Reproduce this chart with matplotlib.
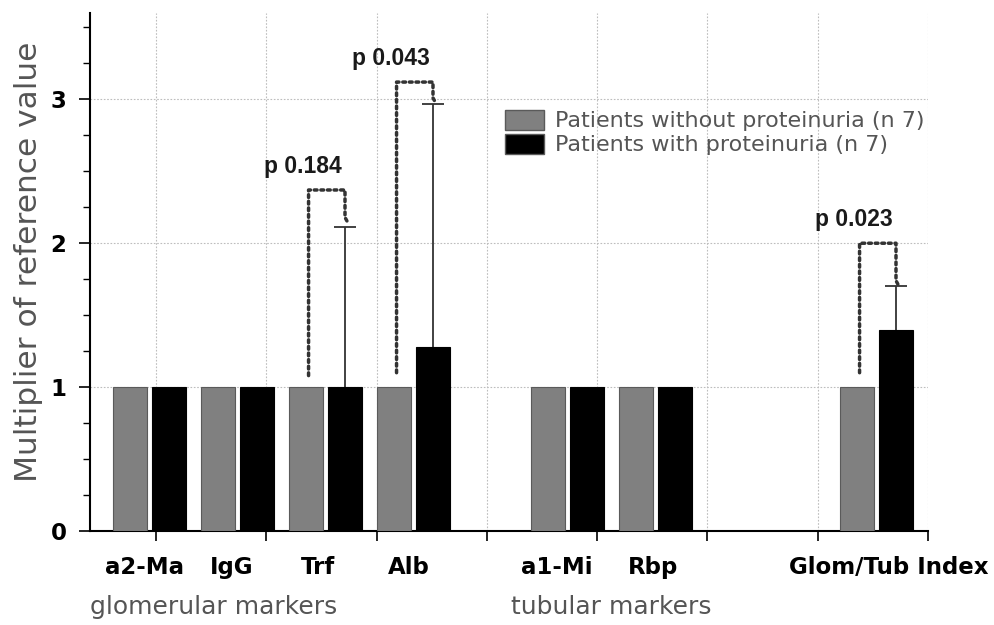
import matplotlib
matplotlib.use("Agg")
import matplotlib.pyplot as plt
import numpy as np
from matplotlib.patches import Patch

# Data
categories = ["a2-Ma", "IgG", "Trf", "Alb", "a1-Mi", "Rbp", "Glom/Tub Index"]
without_prot = [1, 1, 1, 1, 1, 1, 1]
with_prot = [1, 1, 1, 1.28, 1, 1, 1.40]
with_prot_sd = [0, 0, 1.11, 1.69, 0, 0, 0.30]

# p-value brackets: category index, left foot, top, right foot, label
p_idx = [2, 3, 6]
p_left = [1.08, 1.10, 1.10]
p_top = [2.37, 3.12, 2.00]
p_right = [2.18, 3.01, 1.74]
p_text = ["p 0.184", "p 0.043", "p 0.023"]

groups = ["glomerular markers", "tubular markers"]
legend_labels = ["Patients without proteinuria (n 7)", "Patients with proteinuria (n 7)"]

# layout (one unit = spacing of neighbouring categories)
pos = np.array([0.676, 1.676, 2.676, 3.676, 5.426, 6.426, 8.938])
label_shift = np.array([-0.06, -0.07, -0.08, -0.05, -0.12, -0.03, 0.14])
group_pos = [1.41, 5.92]
off = 0.222
width = 0.386
cap = 0.125
xmax = 9.523

plt.rcParams["font.family"] = ["Liberation Sans", "DejaVu Sans"]

fig = plt.figure(figsize=(9.95, 6.25), dpi=100)
ax = fig.add_axes([90 / 995, 94 / 625, 838 / 995, 518 / 625])

ax.bar(pos - off, without_prot, width, color="#808080", edgecolor="#5a5a5a",
       linewidth=0.8, zorder=3, label=legend_labels[0])
ax.bar(pos + off, with_prot, width, color="black", edgecolor="black",
       linewidth=0.8, zorder=3, label=legend_labels[1])

# upper error bars only
for x, y, e in zip(pos + off, with_prot, with_prot_sd):
    if e > 0:
        ax.vlines(x, y, y + e, color="#333333", lw=1.3, zorder=2)
        ax.hlines(y + e, x - cap, x + cap, color="#333333", lw=1.3, zorder=2)

for i, yl, yt, yr, t in zip(p_idx, p_left, p_top, p_right, p_text):
    xl = pos[i] - off + 0.03
    xr = pos[i] + off
    ax.plot([xl, xl, xr, xr, xr + 0.035], [yl, yt, yt, yr, yr - 0.04],
            color="#333333", lw=2.5, ls=(0, (0.8, 1.1)), zorder=4,
            solid_capstyle="round", dash_capstyle="round")
    ax.text(xl - 0.06, yt + 0.12, t, ha="center", va="baseline",
            fontsize=16.5, fontweight="bold", color="#1a1a1a")

ax.set_xlim(0, xmax)
ax.set_ylim(0, 3.6)

xt = 0.75 + 1.2534 * np.arange(8)
ax.set_xticks(xt)
ax.set_xticklabels([])
ax.set_yticks([0, 1, 2, 3])
ax.set_yticks(np.arange(0.25, 3.6, 0.25), minor=True)
ax.tick_params(axis="y", which="major", length=8, width=1.2, pad=9,
               labelsize=16.5)
ax.tick_params(axis="y", which="minor", length=5, width=1.0)
ax.tick_params(axis="x", which="major", length=7, width=1.2)
for lab in ax.get_yticklabels():
    lab.set_fontweight("bold")
    lab.set_family(["DejaVu Sans"])

ax.grid(True, which="major", color="#bdbdbd", lw=0.8, ls=(0, (1.5, 1.5)))
ax.set_axisbelow(True)

for s in ["top", "right"]:
    ax.spines[s].set_visible(False)
for s in ["left", "bottom"]:
    ax.spines[s].set_linewidth(1.5)

for x, c in zip(pos + label_shift, categories):
    ax.text(x, -0.255, c, ha="center", va="center",
            fontsize=16.5, fontweight="bold", color="black",
            family=["DejaVu Sans"], clip_on=False)
for x, g in zip(group_pos, groups):
    ax.text(x, -0.525, g, ha="center", va="center", fontsize=18,
            color="#555555", family=["DejaVu Sans"], clip_on=False)

ax.set_ylabel("Multiplier of reference value", fontsize=22.5, color="#555555",
              family=["DejaVu Sans"])
ax.yaxis.set_label_coords(-0.056, 0.52)

handles = [Patch(facecolor="#808080", edgecolor="#5a5a5a"),
           Patch(facecolor="black", edgecolor="#5a5a5a")]
ax.legend(handles, legend_labels, loc="upper left", bbox_to_anchor=(0.495, 0.813),
          frameon=False, handlelength=1.75, handleheight=1.0,
          labelspacing=0.1, handletextpad=0.5, borderaxespad=0, borderpad=0,
          labelcolor="#555555", prop={"family": "DejaVu Sans", "size": 16})

fig.savefig("out.png", dpi=100)
